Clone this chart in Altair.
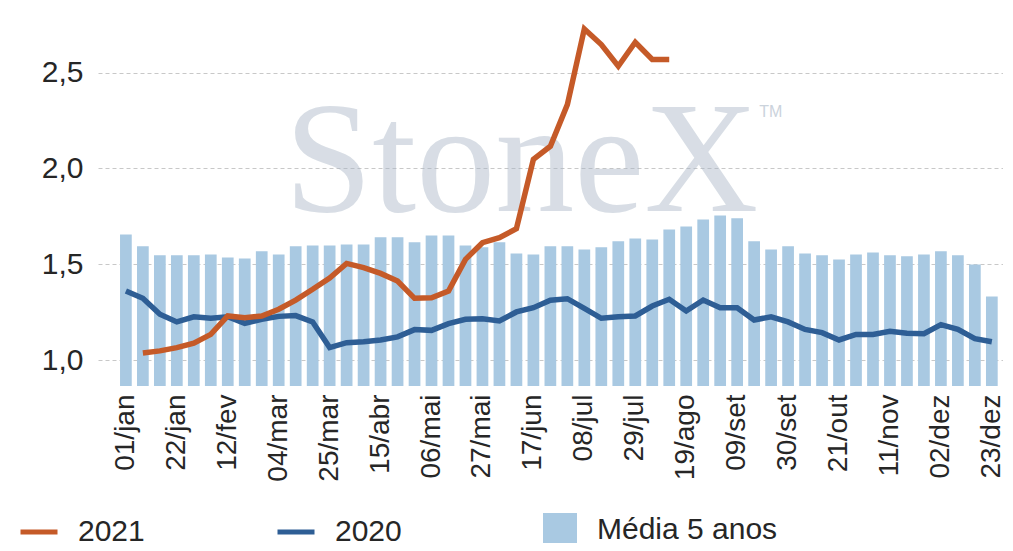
import altair as alt
import pandas as pd

weeks = ["01/jan", "08/jan", "15/jan", "22/jan", "29/jan",
         "05/fev", "12/fev", "19/fev", "26/fev",
         "04/mar", "11/mar", "18/mar", "25/mar",
         "01/abr", "08/abr", "15/abr", "22/abr", "29/abr",
         "06/mai", "13/mai", "20/mai", "27/mai",
         "03/jun", "10/jun", "17/jun", "24/jun",
         "01/jul", "08/jul", "15/jul", "22/jul", "29/jul",
         "05/ago", "12/ago", "19/ago", "26/ago",
         "02/set", "09/set", "16/set", "23/set", "30/set",
         "07/out", "14/out", "21/out", "28/out",
         "04/nov", "11/nov", "18/nov", "25/nov",
         "02/dez", "09/dez", "16/dez", "23/dez"]

media5 = [1.656, 1.594, 1.547, 1.547, 1.547, 1.552, 1.536, 1.531, 1.568, 1.552,
          1.594, 1.599, 1.599, 1.604, 1.604, 1.641, 1.641, 1.615, 1.651, 1.651,
          1.599, 1.589, 1.615, 1.557, 1.552, 1.594, 1.594, 1.578, 1.589, 1.620,
          1.635, 1.630, 1.682, 1.698, 1.734, 1.755, 1.740, 1.620, 1.578, 1.594,
          1.557, 1.547, 1.526, 1.552, 1.562, 1.547, 1.542, 1.552, 1.568, 1.547,
          1.500, 1.333]

y2020 = [1.361, 1.323, 1.240, 1.200, 1.227, 1.219, 1.227, 1.193, 1.214, 1.229,
         1.233, 1.200, 1.066, 1.092, 1.097, 1.106, 1.122, 1.160, 1.156, 1.191,
         1.214, 1.217, 1.205, 1.252, 1.274, 1.313, 1.321, 1.271, 1.219, 1.227,
         1.231, 1.283, 1.318, 1.257, 1.314, 1.274, 1.274, 1.210, 1.227, 1.200,
         1.161, 1.144, 1.106, 1.135, 1.135, 1.151, 1.141, 1.139, 1.186, 1.161,
         1.113, 1.097]

y2021 = [None, 1.038, 1.049, 1.066, 1.089, 1.135, 1.231, 1.222, 1.231, 1.266,
         1.314, 1.370, 1.429, 1.505, 1.483, 1.453, 1.413, 1.323, 1.326, 1.361,
         1.526, 1.613, 1.639, 1.686, 2.047, 2.116, 2.333, 2.727, 2.646, 2.533,
         2.658, 2.568, 2.568] + [None] * 19

tick_labels = weeks[::3]
y_ticks = [1.0, 1.5, 2.0, 2.5]
y_min, y_max = 0.866, 2.8

series_lines = ["2021", "2020"]
series_bar = "Média 5 anos"

bar_df = pd.DataFrame({"week": weeks, "value": media5, "serie": series_bar})
rows = []
for w, a, b in zip(weeks, y2021, y2020):
    if a is not None:
        rows.append({"week": w, "value": a, "serie": "2021"})
    rows.append({"week": w, "value": b, "serie": "2020"})
line_df = pd.DataFrame(rows)

wm_df = pd.DataFrame({"week": ["17/jun"], "value": [1.776], "txt": ["StoneX"]})
tm_df = pd.DataFrame({"week": ["16/set"], "value": [2.266], "txt": ["TM"]})

FONT = "Liberation Sans"
TXT = "#262626"

xscale = alt.Scale(domain=weeks, paddingInner=0.31, paddingOuter=0.805, align=0.806)
yscale = alt.Scale(domain=[y_min, y_max], zero=False, nice=False)

x_enc = alt.X("week:N", scale=xscale, sort=None, title=None,
              axis=alt.Axis(values=tick_labels, labelAngle=-90, domain=False, ticks=False,
                            grid=False, labelFontSize=28, labelFont=FONT, labelColor=TXT,
                            labelPadding=8))
y_enc = alt.Y("value:Q", scale=yscale, title=None,
              axis=alt.Axis(values=y_ticks, domain=False, ticks=False, grid=True,
                            gridDash=[4, 3], gridColor="#c8c8c8", gridWidth=1,
                            labelFontSize=30, labelFont=FONT, labelColor=TXT, labelPadding=15,
                            labelExpr="replace(format(datum.value, '.1f'), '.', ',')"))

bars = alt.Chart(bar_df).mark_bar(opacity=1).encode(
    x=x_enc,
    y=y_enc,
    y2=alt.datum(y_min),
    color=alt.Color("serie:N", scale=alt.Scale(domain=[series_bar], range=["#a9c9e2"]),
                    legend=alt.Legend(title=None, orient="none", legendX=445, legendY=498,
                                      symbolType="square", symbolSize=1156, symbolStrokeWidth=0,
                                      labelFontSize=30, labelFont=FONT, labelColor=TXT,
                                      labelOffset=20, labelLimit=400)),
)

lines = alt.Chart(line_df).mark_line(strokeWidth=5.5).encode(
    x=alt.X("week:N", scale=xscale, sort=None),
    y=alt.Y("value:Q", scale=yscale),
    color=alt.Color("serie:N", scale=alt.Scale(domain=series_lines, range=["#c55a28", "#2e5e95"]),
                    sort=series_lines,
                    legend=alt.Legend(title=None, orient="none", legendX=-80, legendY=496,
                                      direction="horizontal", columns=2, columnPadding=122,
                                      symbolType="stroke", symbolSize=1369, symbolStrokeWidth=5,
                                      labelFontSize=30, labelFont=FONT, labelColor=TXT,
                                      labelOffset=18, labelLimit=400)),
    detail="serie:N",
)

wm = alt.Chart(wm_df).mark_text(font="Liberation Serif", fontSize=158, color="#a9b6c6",
                                 opacity=0.45, align="center", baseline="alphabetic", dx=-12).encode(
    x=alt.X("week:N", scale=xscale, sort=None),
    y=alt.Y("value:Q", scale=yscale),
    text="txt:N",
)

tm = alt.Chart(tm_df).mark_text(font=FONT, fontSize=16, color="#a9b6c6", opacity=0.6,
                                 align="left", baseline="alphabetic", dx=5).encode(
    x=alt.X("week:N", scale=xscale, sort=None),
    y=alt.Y("value:Q", scale=yscale),
    text="txt:N",
)

chart = alt.layer(bars, wm, tm, lines).resolve_scale(color="independent").properties(
    width=905, height=371,
    padding={"left": 90, "top": 7, "right": 0, "bottom": 157},
    autosize=alt.AutoSizeParams(type="none"),
).configure_view(stroke=None)

chart.save("out.html", embed_options={"renderer": "svg", "actions": False})
